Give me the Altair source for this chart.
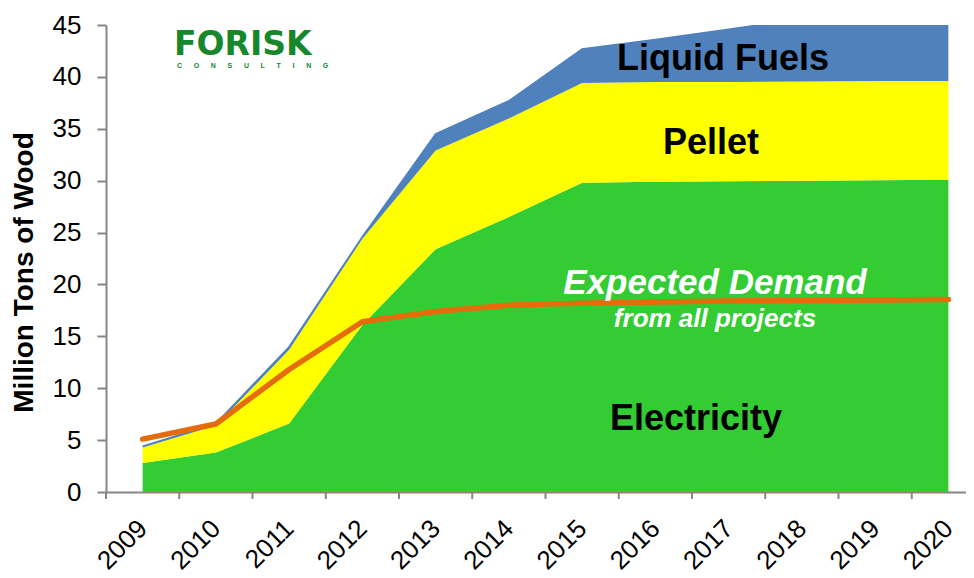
import altair as alt
import pandas as pd

# ---- data ----
years = [2009, 2010, 2011, 2012, 2013, 2014, 2015, 2016, 2017, 2018, 2019, 2020]
electricity = [2.8, 3.8, 6.6, 16.1, 23.4, 26.5, 29.8, 29.9, 29.95, 30.0, 30.05, 30.1]
pellet = [1.5, 2.6, 7.1, 8.3, 9.5, 9.5, 9.6, 9.6, 9.55, 9.55, 9.55, 9.5]
liquid_fuels = [0.1, 0.2, 0.3, 0.2, 1.6, 1.7, 3.3, 4.1, 5.1, 6.05, 6.1, 6.2]
expected_demand = [5.1, 6.55, 11.8, 16.4, 17.4, 18.0, 18.2, 18.3, 18.4, 18.45, 18.5, 18.55]

series_names = ["Electricity", "Pellet", "Liquid Fuels"]
series_colors = ["#33CC33", "#FFFF00", "#4F81BD"]
y_ticks = [0, 5, 10, 15, 20, 25, 30, 35, 40, 45]

FONT = "Liberation Sans"

rows = []
for i, y in enumerate(years):
    for k, (name, vals) in enumerate(zip(series_names, [electricity, pellet, liquid_fuels])):
        rows.append({"year": y, "series": name, "value": vals[i], "ord": k})
df_long = pd.DataFrame(rows)

df_wide = pd.DataFrame({
    "year": years,
    "total": [a + b + c for a, b, c in zip(electricity, pellet, liquid_fuels)],
    "demand": expected_demand,
})

# category boundaries (tick marks between the years)
df_bounds = pd.DataFrame({"b": [y - 0.5 for y in years] + [years[-1] + 0.5]})

AX = "#868686"
W = 860          # plot width in px
PX_PER_YEAR = 73.25

xscale = alt.Scale(domain=[years[0] - 0.5, years[0] - 0.5 + W / PX_PER_YEAR], nice=False, zero=False)

X = alt.X(
    "year:Q",
    scale=xscale,
    axis=alt.Axis(
        title=None, values=years, format="d", tickSize=0,
        labelAngle=-45, labelAlign="right", labelBaseline="middle", labelPadding=32,
        labelOverlap=False, labelFlush=False,
        domainColor=AX, domainWidth=2, labelFontSize=26, labelFont=FONT,
        labelColor="black", grid=False,
    ),
)
Ysc = alt.Scale(domain=[0, 45], nice=False, zero=True)

areas = alt.Chart(df_long).mark_area(clip=True, opacity=1).encode(
    x=X,
    y=alt.Y(
        "value:Q", stack="zero", scale=Ysc,
        axis=alt.Axis(
            values=y_ticks, tickSize=9, tickWidth=2, tickColor=AX, domainColor=AX,
            domainWidth=2, labelPadding=16, labelFontSize=26, labelFont=FONT,
            labelColor="black", grid=False, title="Million Tons of Wood",
            titleFont=FONT, titleFontSize=28, titleFontWeight="bold",
            titleColor="black", titleX=-82, titleY=247, titleAngle=-90,
            titleAlign="center", titleBaseline="middle",
        ),
    ),
    color=alt.Color("series:N", scale=alt.Scale(domain=series_names, range=series_colors), legend=None),
    order=alt.Order("ord:Q"),
)

top_line = alt.Chart(df_wide).mark_line(clip=True, color="#4F81BD", strokeWidth=1.5).encode(
    x=X, y=alt.Y("total:Q", scale=Ysc)
)

demand_line = alt.Chart(df_wide).mark_line(
    clip=True, color="#E46C0A", strokeWidth=5.5, strokeCap="round", strokeJoin="round"
).encode(x=X, y=alt.Y("demand:Q", scale=Ysc))

bound_ticks = alt.Chart(df_bounds).mark_rule(color=AX, strokeWidth=2).encode(
    x=alt.X("b:Q", scale=xscale),
    y=alt.value(467), y2=alt.value(474),
)


def label(text, x, y, size, color="black", style="normal"):
    return alt.Chart(pd.DataFrame({"t": [text]})).mark_text(
        font=FONT, fontSize=size, fontWeight="bold", fontStyle=style, color=color,
        align="center", baseline="alphabetic",
    ).encode(x=alt.value(x), y=alt.value(y), text="t:N")


# positions relative to plot origin (page x=106, y=25)
texts = [
    label("Liquid Fuels", 617, 45, 36),
    label("Pellet", 605, 129, 36),
    label("Electricity", 590, 405, 36),
    label("Expected Demand", 609, 269, 35, "white", "italic"),
    label("from all projects", 609, 302, 26, "white", "italic"),
]

logo = alt.Chart(pd.DataFrame({"t": ["FORISK"]})).mark_text(
    font="DejaVu Sans", fontSize=33, fontWeight="bold", color="#17872B",
    align="left", baseline="alphabetic",
).encode(x=alt.value(68), y=alt.value(30), text="t:N")

nb = "\u00a0" * 6
logo_sub = alt.Chart(pd.DataFrame({"t": [nb.join(list("CONSULTING"))]})).mark_text(
    font=FONT, fontSize=7, fontWeight="bold", color="#17872B",
    align="left", baseline="alphabetic",
).encode(x=alt.value(71), y=alt.value(43), text="t:N")

chart = alt.layer(areas, top_line, demand_line, bound_ticks, *texts, logo, logo_sub).properties(
    width=W, height=467,
    autosize=alt.AutoSizeParams(type="none"),
    padding={"left": 98, "top": 17, "right": 0, "bottom": 86},
    background="white",
).configure_view(stroke=None)

chart.save("out.html", embed_options={"renderer": "svg", "actions": False})
